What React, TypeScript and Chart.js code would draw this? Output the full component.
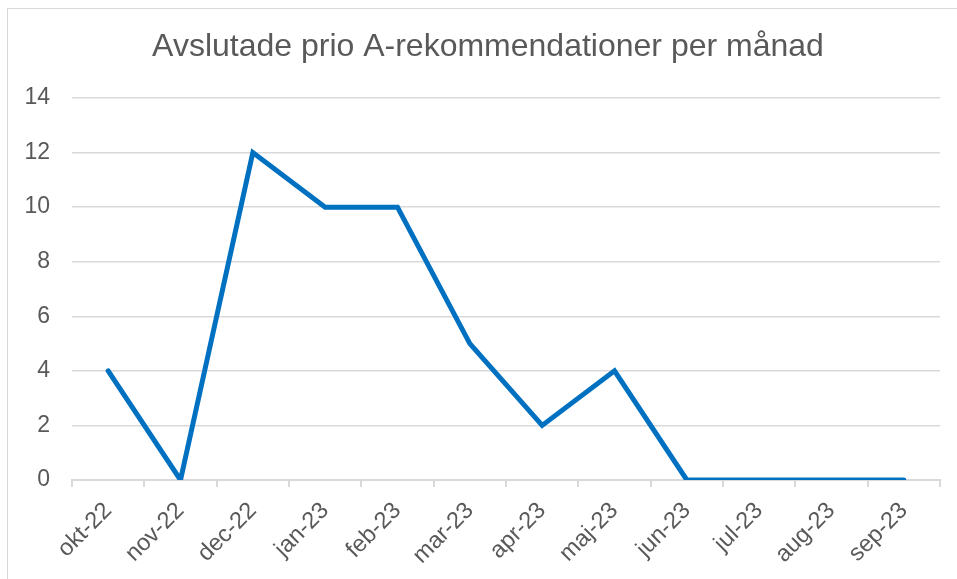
import React, { useEffect, useRef } from "react";
import { Chart, registerables } from "chart.js";

Chart.register(...registerables);

const months = ["okt-22", "nov-22", "dec-22", "jan-23", "feb-23", "mar-23", "apr-23", "maj-23", "jun-23", "jul-23", "aug-23", "sep-23"];
const closedA = [4, 0, 12, 10, 10, 5, 2, 4, 0, 0, 0, 0];
const chartTitle = "Avslutade prio A-rekommendationer per månad";
const yMin = 0;
const yMax = 14;
const yStep = 2;

export default function App() {
  const ref = useRef<HTMLCanvasElement | null>(null);
  useEffect(() => {
    if (!ref.current) return;
    const font = "Arial, 'Liberation Sans', sans-serif";
    const titlePlugin = {
      id: "centeredTitle",
      afterDraw(c: any) {
        const ctx = c.ctx;
        ctx.save();
        ctx.font = `normal 32px ${font}`;
        ctx.fillStyle = "#595959";
        ctx.textAlign = "center";
        ctx.textBaseline = "middle";
        ctx.fillText(chartTitle, 488, 47);
        ctx.restore();
      },
    };
    const chart = new Chart(ref.current, {
      type: "line",
      data: {
        labels: months,
        datasets: [
          {
            data: closedA,
            borderColor: "#0070C0",
            backgroundColor: "#0070C0",
            borderWidth: 5,
            pointRadius: 0,
            borderCapStyle: "round",
            borderJoinStyle: "miter",
            tension: 0,
          },
        ],
      },
      plugins: [titlePlugin],
      options: {
        animation: false,
        responsive: false,
        devicePixelRatio: 1,
        layout: { padding: { left: 0, right: 17, top: 98, bottom: 0 } },
        plugins: {
          legend: { display: false },
          tooltip: { enabled: false },
          title: { display: false },
        },
        scales: {
          x: {
            type: "category",
            offset: true,
            grid: {
              offset: true,
              drawOnChartArea: false,
              drawTicks: true,
              tickLength: 7,
              color: "#d9d9d9",
              lineWidth: 2,
            },
            border: { display: true, color: "#d9d9d9", width: 2 },
            ticks: {
              color: "#595959",
              font: { family: font, size: 23.5 },
              minRotation: 45,
              maxRotation: 45,
              autoSkip: false,
              padding: 10,
            },
            afterFit: (scale: any) => {
              scale.height = 99;
            },
          },
          y: {
            min: yMin,
            max: yMax,
            grid: {
              color: "#d9d9d9",
              lineWidth: 1.5,
              drawTicks: false,
            },
            border: { display: false },
            ticks: {
              stepSize: yStep,
              color: "#595959",
              font: { family: font, size: 23 },
              padding: 22,
            },
            afterFit: (scale: any) => {
              scale.width = 72;
            },
          },
        },
      },
    });
    return () => chart.destroy();
  }, []);
  return (
    <>
      <div
        style={{
          position: "fixed",
          left: 7,
          top: 8,
          width: 1000,
          height: 1000,
          border: "1.5px solid #d9d9d9",
          boxSizing: "border-box",
          background: "#fff",
        }}
      />
      <canvas
        ref={ref}
        width={957}
        height={579}
        style={{ position: "fixed", left: 0, top: 0, width: 957, height: 579 }}
      />
    </>
  );
}
